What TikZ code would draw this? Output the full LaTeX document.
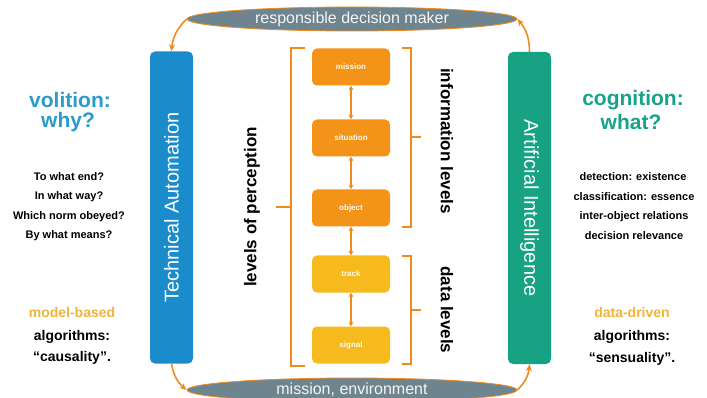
\documentclass[tikz,border=0pt]{standalone}
\usepackage{fontspec}
\setmainfont{Liberation Sans}
\usetikzlibrary{shapes.geometric,arrows.meta}

\definecolor{taBlue}{HTML}{1B8CCB}
\definecolor{aiGreen}{HTML}{16A283}
\definecolor{lvOrange}{HTML}{F39419}
\definecolor{lvYellow}{HTML}{F7BA1C}
\definecolor{lnOrange}{HTML}{EF8A1D}
\definecolor{volBlue}{HTML}{2A9CC8}
\definecolor{cogGreen}{HTML}{17A38A}
\definecolor{ellGray}{HTML}{6E8590}
\definecolor{goldText}{HTML}{EFB43C}

\newcommand{\fs}[1]{\fontsize{#1}{#1}\selectfont}

\begin{document}
\begin{tikzpicture}[x=1pt,y=-1pt,
  pill/.style={ellipse, fill=ellGray, draw=lnOrange, line width=0.8pt,
    minimum width=330pt, minimum height=24pt, inner sep=0pt,
    text=white!92!gray, font=\fs{16}},
  bar/.style={rectangle, rounded corners=5pt, minimum width=43pt,
    minimum height=312pt, draw=none},
  barlabel/.style={text=white, font=\fs{20}, inner sep=0pt},
  level/.style={rectangle, rounded corners=5pt, minimum width=78pt,
    minimum height=37pt, draw=none, text=white!95!orange, font=\bfseries\fs{8}},
  flow/.style={-{Stealth[length=7pt,width=6pt]}, draw=lnOrange, line width=1.6pt},
  dbl/.style={{Stealth[length=4.5pt,width=5pt]}-{Stealth[length=4.5pt,width=5pt]},
    draw=lnOrange, line width=1.8pt},
  brk/.style={draw=lnOrange, line width=1.3pt},
  sidelabel/.style={font=\bfseries\fs{17}, inner sep=0pt},
  head/.style={font=\bfseries\fs{21}, inner sep=0pt},
  item/.style={font=\bfseries\fs{11}, inner sep=0pt},
  algo/.style={font=\bfseries\fs{14}, inner sep=0pt},
]
\clip (0,0) rectangle (707,398);
\useasboundingbox (0,0) rectangle (707,398);

% top and bottom anchors of the loop
\node[pill] (dm) at (352,19) {responsible decision maker};
\node[pill] (env) at (352,390) {mission, environment};

% the two vertical bars
\node[bar, fill=taBlue] (ta) at (171.5,207.5) {};
\node[barlabel, rotate=90] (talabel) at (ta.center) {Technical Automation};
\node[bar, fill=aiGreen] (ai) at (529.5,208) {};
\node[barlabel, rotate=-90] (ailabel) at (ai.center) {Artificial Intelligence};

% loop arrows
\draw[flow] (dm.west) to[bend right=20] (ta.north);
\draw[flow] (ta.south) to[bend right=20] (env.west);
\draw[flow] (env.east) to[bend right=20] (ai.south);
\draw[flow] (ai.north) to[bend right=20] (dm.east);

% levels of perception
\node[level, fill=lvOrange] (mis) at (351,67) {mission};
\node[level, fill=lvOrange] (sit) at (351,138) {situation};
\node[level, fill=lvOrange] (obj) at (351,208) {object};
\node[level, fill=lvYellow] (trk) at (351,274) {track};
\node[level, fill=lvYellow] (sig) at (351,345) {signal};

\draw[dbl] (mis.south) -- (sit.north);
\draw[dbl] (sit.south) -- (obj.north);
\draw[dbl] (obj.south) -- (trk.north);
\draw[dbl] (trk.south) -- (sig.north);

% brackets
\draw[brk] (305,48) -- (291,48) -- (291,366) -- (305,366);
\draw[brk] (291,207) -- (276,207);
\draw[brk] (402,48) -- (411,48) -- (411,227) -- (402,227);
\draw[brk] (411,137) -- (421,137);
\draw[brk] (402,256) -- (411,256) -- (411,364) -- (402,364);
\draw[brk] (411,310) -- (421,310);

\node[sidelabel, rotate=90] (perc) at (252,207) {levels of perception};
\node[sidelabel, rotate=-90] (info) at (447,141) {information levels};
\node[sidelabel, rotate=-90] (data) at (447,310) {data levels};

% left column
\node[head, text=volBlue] (vol) at (70,100) {volition:};
\node[head, text=volBlue] (why) at (68,122) {why?};
\node[item] (q1) at (69,177) {To what end?};
\node[item] (q2) at (69,197) {In what way?};
\node[item] (q3) at (69,217) {Which norm obeyed?};
\node[item] (q4) at (69,236) {By what means?};
\node[algo, text=goldText] (mb) at (72,312) {model-based};
\node[algo] (alg1) at (72,337) {algorithms:};
\node[algo] (cau) at (72,358) {``causality''.};

% right column
\node[head, text=cogGreen] (cog) at (633,100) {cognition:};
\node[head, text=cogGreen] (what) at (631,122) {what?};
\node[item] (c1) at (633,177) {detection: existence};
\node[item] (c2) at (634,197) {classification: essence};
\node[item] (c3) at (634,217) {inter-object relations};
\node[item] (c4) at (634,236) {decision relevance};
\node[algo, text=goldText] (dd) at (632,312) {data-driven};
\node[algo] (alg2) at (632,337) {algorithms:};
\node[algo] (sen) at (632,359) {``sensuality''.};
\end{tikzpicture}
\end{document}
